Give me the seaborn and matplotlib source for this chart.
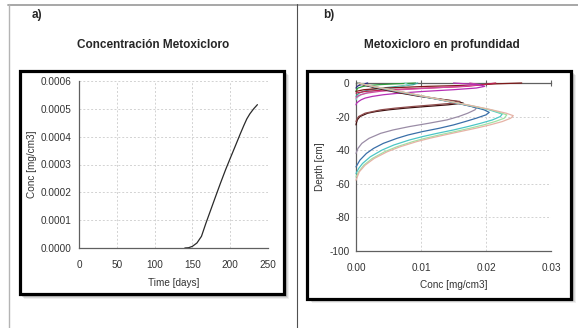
import matplotlib
matplotlib.use("Agg")
import matplotlib.pyplot as plt
from matplotlib.patches import Rectangle
from matplotlib.lines import Line2D
from matplotlib.ticker import FormatStrFormatter
import pandas as pd
import seaborn as sns

# ---- a) breakthrough concentration over time ----
time_days = [140, 145, 150, 156, 162, 168, 174, 180, 187, 194, 200, 207, 213, 218, 222,
             226, 231, 236]
conc_time = [0.0, 0.000001, 0.000006, 0.000018, 0.000042, 0.00009, 0.000135, 0.00018,
             0.000232, 0.000282, 0.000322, 0.000368, 0.000408, 0.00044, 0.000464,
             0.000482, 0.0005, 0.000515]
time_ticks = [0, 50, 100, 150, 200, 250]
conc_ticks = [0.0, 0.0001, 0.0002, 0.0003, 0.0004, 0.0005, 0.0006]

# ---- b) depth profiles at successive print times ----
depth_navy = [0, -0.5, -1, -1.5, -2, -3]
conc_navy = [0.0018, 0.0013, 0.0008, 0.0004, 0.0002, 0.0]

depth_green = [0, -0.5, -1, -1.5, -2, -3, -4, -5]
conc_green = [0.0092, 0.0060, 0.0035, 0.0020, 0.0011, 0.0003, 0.0001, 0.0]

depth_teal = [0, -1, -2, -3, -4, -5, -6, -7, -8]
conc_teal = [0.0095, 0.0088, 0.0065, 0.0040, 0.0022, 0.0011, 0.0005, 0.0002, 0.0]

depth_aqua = [0, -1, -2, -3, -4, -5, -6, -7, -8, -9, -10]
conc_aqua = [0.0075, 0.0080, 0.0072, 0.0056, 0.0039, 0.0025, 0.0015, 0.0008, 0.0004, 0.0001, 0.0]

depth_darkred = [0, -0.5, -1, -1.5, -2, -3, -4, -5]
conc_darkred = [0.0255, 0.0215, 0.0195, 0.0160, 0.0110, 0.0045, 0.0012, 0.0]

depth_crimson = [0, -0.5, -1, -2, -3, -4, -5, -6]
conc_crimson = [0.0215, 0.0205, 0.0195, 0.0170, 0.0110, 0.0050, 0.0015, 0.0]

depth_pink = [0, -1, -2, -3, -4, -5, -6, -7, -8, -9]
conc_pink = [0.0175, 0.0190, 0.0165, 0.0115, 0.0068, 0.0036, 0.0017, 0.0007, 0.0002, 0.0]

depth_magenta = [0, -1, -2, -3, -4, -5, -6, -7, -8, -9, -10, -11, -12, -13]
conc_magenta = [0.0150, 0.0190, 0.0198, 0.0185, 0.0150, 0.0105, 0.0068, 0.0042,
                0.0025, 0.0014, 0.0008, 0.0004, 0.0001, 0.0]

depth_brown = [0, -1, -2, -4, -6, -8, -10, -11, -12, -13, -14, -15, -16, -17, -18,
               -20, -22, -24, -25]
conc_brown = [0.0002, 0.0010, 0.0020, 0.0042, 0.0068, 0.0098, 0.0135, 0.0155, 0.0165,
              0.0142, 0.0108, 0.0076, 0.0050, 0.0031, 0.0018, 0.0006, 0.0002, 0.00005, 0.0]

depth_rosy = [0, -1, -2, -4, -6, -8, -10, -11, -12, -13, -14, -15, -16, -18, -20, -22, -23]
conc_rosy = [0.0004, 0.0013, 0.0024, 0.0046, 0.0072, 0.0102, 0.0138, 0.0160, 0.0150,
             0.0120, 0.0088, 0.0060, 0.0038, 0.0014, 0.0004, 0.0001, 0.0]

depth_lilac = [0, -2, -4, -6, -8, -10, -12, -14, -15, -16, -18, -20, -22, -24, -26,
               -28, -30, -33, -36, -39, -42]
conc_lilac = [0.0003, 0.0024, 0.0050, 0.0076, 0.0102, 0.0128, 0.0155, 0.0178, 0.0185,
              0.0183, 0.0172, 0.0158, 0.0140, 0.0112, 0.0082, 0.0057, 0.0038, 0.0020,
              0.0009, 0.0003, 0.0]

depth_blue = [0, -2, -4, -6, -8, -10, -12, -14, -16, -17.5, -19, -21, -23, -25, -27,
              -29, -31, -33, -36, -39, -42, -46, -50]
conc_blue = [0.0003, 0.0025, 0.0050, 0.0077, 0.0103, 0.0130, 0.0155, 0.0178, 0.0197,
             0.0205, 0.0200, 0.0185, 0.0168, 0.0150, 0.0128, 0.0102, 0.0080, 0.0063,
             0.0042, 0.0027, 0.0016, 0.0006, 0.0]

depth_cyan = [0, -2, -4, -6, -8, -10, -12, -14, -16, -18.5, -20, -22, -24, -26, -28,
              -30, -32, -34, -37, -40, -44, -48, -51, -54]
conc_cyan = [0.0003, 0.0026, 0.0053, 0.0079, 0.0105, 0.0131, 0.0157, 0.0182, 0.0205,
             0.0225, 0.0222, 0.0210, 0.0192, 0.0172, 0.0150, 0.0125, 0.0102, 0.0082,
             0.0058, 0.0040, 0.0022, 0.0010, 0.0004, 0.0]

depth_mint = [0, -2, -4, -6, -8, -10, -12, -14, -16, -19, -21, -23, -25, -27, -29,
              -31, -33, -35, -38, -41, -45, -49, -53, -56]
conc_mint = [0.0003, 0.0026, 0.0053, 0.0079, 0.0105, 0.0131, 0.0157, 0.0183, 0.0208,
             0.0232, 0.0228, 0.0214, 0.0196, 0.0175, 0.0152, 0.0128, 0.0106, 0.0087,
             0.0063, 0.0044, 0.0025, 0.0012, 0.0004, 0.0]

depth_peach = [0, -2, -4, -6, -8, -10, -12, -14, -16, -18, -19.5, -21, -23, -25, -27,
               -29, -31, -33, -35, -38, -41, -45, -49, -53, -58]
conc_peach = [0.0003, 0.0027, 0.0054, 0.0080, 0.0106, 0.0132, 0.0158, 0.0184, 0.0209,
              0.0231, 0.0242, 0.0238, 0.0225, 0.0206, 0.0184, 0.0160, 0.0136, 0.0113,
              0.0093, 0.0068, 0.0048, 0.0028, 0.0014, 0.0005, 0.0]

depth_ticks = [0, -20, -40, -60, -80, -100]
profile_conc_ticks = [0.0, 0.01, 0.02, 0.03]

profiles = [
    ("navy", depth_navy, conc_navy, "#2b2b86"),
    ("green", depth_green, conc_green, "#2f9e3f"),
    ("teal", depth_teal, conc_teal, "#3aa89c"),
    ("aqua", depth_aqua, conc_aqua, "#86d8cf"),
    ("darkred", depth_darkred, conc_darkred, "#7d1a1a"),
    ("crimson", depth_crimson, conc_crimson, "#c0204e"),
    ("pink", depth_pink, conc_pink, "#d24aa2"),
    ("magenta", depth_magenta, conc_magenta, "#b52fb5"),
    ("brown", depth_brown, conc_brown, "#3d0e0e"),
    ("rosy", depth_rosy, conc_rosy, "#8e4b4b"),
    ("lilac", depth_lilac, conc_lilac, "#9a8ca6"),
    ("blue", depth_blue, conc_blue, "#3a6fa8"),
    ("cyan", depth_cyan, conc_cyan, "#4cc6c6"),
    ("mint", depth_mint, conc_mint, "#9fe3a4"),
    ("peach", depth_peach, conc_peach, "#e6b3a6"),
]

rows = []
for name, d, c, _ in profiles:
    for dd, cc in zip(d, c):
        rows.append({"curve": name, "depth": dd, "conc": cc})
profile_df = pd.DataFrame(rows)
profile_palette = {name: col for name, _, _, col in profiles}
time_df = pd.DataFrame({"time": time_days, "conc": conc_time})

sns.set_style("white")
plt.rcParams["font.family"] = ["Liberation Sans", "DejaVu Sans"]
plt.rcParams["axes.unicode_minus"] = False

W, H = 578, 328
fig = plt.figure(figsize=(W / 100, H / 100), dpi=100)


def fx(px):
    return px / W


def fy(py):
    return 1 - py / H


# table rules around the two panels
fig.add_artist(Line2D([fx(8), 1], [fy(4.5), fy(4.5)], color="#a0a0a0", lw=1.3, zorder=-5))
fig.add_artist(Line2D([fx(8.5), fx(8.5)], [fy(4), 0], color="#b4b4b4", lw=1.0, zorder=-5))
fig.add_artist(Line2D([fx(297), fx(297)], [fy(4), 0], color="#505050", lw=0.8, zorder=-5))


def framed_box(x0, y0, x1, y1):
    # soft drop shadow, then the heavy black frame
    for off, a in [(4.5, 0.10), (3.5, 0.15), (2.5, 0.22)]:
        fig.add_artist(Rectangle((fx(x0 + off), fy(y1 + off)), fx(x1 - x0), (y1 - y0) / H,
                                 transform=fig.transFigure, facecolor="#606060",
                                 edgecolor="none", alpha=a, zorder=-4))
    fig.add_artist(Rectangle((fx(x0), fy(y1)), fx(x1 - x0), (y1 - y0) / H,
                             transform=fig.transFigure, facecolor="white",
                             edgecolor="black", lw=2.3, zorder=-3))


framed_box(19.8, 70.7, 284.0, 294.0)
framed_box(307.2, 70.7, 571.3, 298.5)

tick_kw = dict(direction="inout", length=5, width=0.8, color="#606060",
               labelsize=7.2, labelcolor="#333333")
grid_kw = dict(color="#d2d2d2", linestyle=(0, (2, 2)), lw=0.7)

# ---- panel a ----
axa = fig.add_axes([fx(79), fy(248), fx(268 - 79), (248 - 81) / H])
sns.lineplot(data=time_df, x="time", y="conc", ax=axa, color="#2a2a2a", lw=0.9,
             estimator=None, sort=False)
axa.set_xlim(0, 250)
axa.set_ylim(0, 0.0006)
axa.set_xticks(time_ticks)
axa.set_yticks(conc_ticks)
axa.yaxis.set_major_formatter(FormatStrFormatter("%.4f"))
axa.grid(True, **grid_kw)
axa.tick_params(axis="both", **tick_kw)
axa.tick_params(axis="x", pad=6)
axa.tick_params(axis="y", pad=3)
for s in ("top", "right"):
    axa.spines[s].set_visible(False)
for s in ("left", "bottom"):
    axa.spines[s].set_color("#606060")
    axa.spines[s].set_linewidth(0.9)
axa.set_xlabel("Time [days]", fontsize=7.2, color="#333333", va="center")
axa.set_ylabel("Conc [mg/cm3]", fontsize=7.2, color="#333333", va="center")
axa.xaxis.set_label_coords(0.5, -(283 - 248) / 167)
axa.yaxis.set_label_coords((32 - 79) / 189, 0.5)

# ---- panel b ----
axb = fig.add_axes([fx(356), fy(250.7), fx(551 - 356), (250.7 - 83) / H])
sns.lineplot(data=profile_df, x="conc", y="depth", hue="curve", palette=profile_palette,
             ax=axb, lw=0.9, estimator=None, sort=False, legend=False)
for ln in axb.lines:
    ln.set_clip_on(False)
    ln.set_zorder(3)
axb.set_xlim(0, 0.03)
axb.set_ylim(-100, 0)
axb.set_xticks(profile_conc_ticks)
axb.set_yticks(depth_ticks)
axb.xaxis.set_major_formatter(FormatStrFormatter("%.2f"))
axb.grid(True, **grid_kw)
axb.tick_params(axis="both", **tick_kw)
axb.tick_params(axis="x", pad=6, top=True)
axb.tick_params(axis="y", pad=2)
axb.spines["right"].set_visible(False)
for s in ("left", "bottom", "top"):
    axb.spines[s].set_color("#606060")
    axb.spines[s].set_linewidth(0.9)
axb.set_xlabel("Conc [mg/cm3]", fontsize=7.2, color="#333333", va="center")
axb.set_ylabel("Depth [cm]", fontsize=7.2, color="#333333", va="center")
axb.xaxis.set_label_coords(0.5, -(285 - 250.7) / 167.7)
axb.yaxis.set_label_coords((320 - 356) / 195, 0.5)

# panel tags and headings
fig.text(fx(37), fy(15), "a)", fontsize=8.5, fontweight="bold", ha="center", va="center")
fig.text(fx(329), fy(15), "b)", fontsize=8.5, fontweight="bold", ha="center", va="center")
fig.text(fx(153), fy(45), "Concentración Metoxicloro", fontsize=8.5, fontweight="bold",
         ha="center", va="center")
fig.text(fx(442), fy(45), "Metoxicloro en profundidad", fontsize=8.5, fontweight="bold",
         ha="center", va="center")

fig.savefig("out.png", dpi=100, facecolor="white")
